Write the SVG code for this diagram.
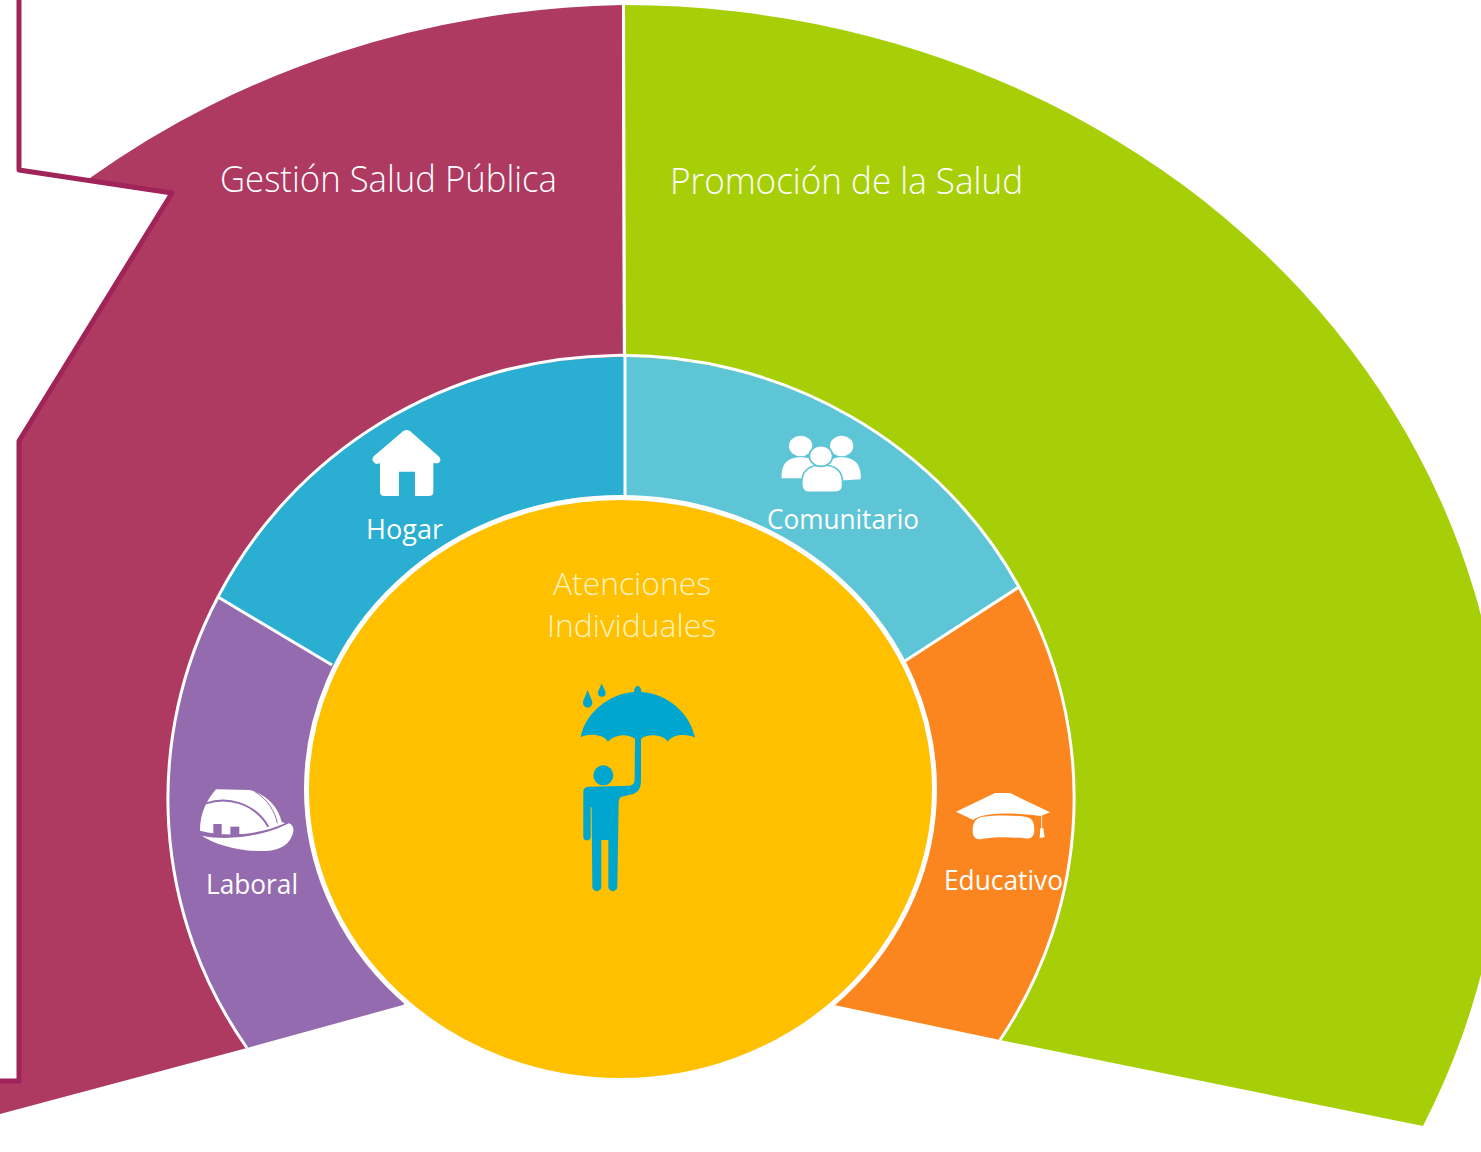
<svg xmlns="http://www.w3.org/2000/svg" width="1481" height="1152" viewBox="0 0 1481 1152">
<style>
text{font-family:"Open Sans","Noto Sans","Liberation Sans",sans-serif;font-weight:300;fill:#fff}
.big{font-size:36px}.mid{font-size:28px;font-weight:400}.ctr{font-size:32px;fill:#fff3c4}
.sep{stroke:#fff;stroke-width:3;fill:none}
.ic{fill:#fff}
</style>
<rect width="1481" height="1152" fill="#fff"/>
<g id="gestion">
<path d="M622,5 A881,790 0 0 0 90,178 L0,300 L0,1114 L247,1048 L420,900 L624,800 Z" fill="#ae3961"/>
<path d="M0,0 L19,0 L19,170 L172,193 L19,441 L19,1081 L0,1081 Z" fill="#fff"/>
<path d="M19,0 L19,170 L172,193 L19,441 L19,1081 L0,1081" fill="none" stroke="#a0245a" stroke-width="5" stroke-linejoin="round"/>
<text class="big" x="220" y="192" textLength="337" lengthAdjust="spacingAndGlyphs">Gestión Salud Pública</text>
</g>
<g id="promocion">
<path d="M624,5 A881,790 0 0 1 1423,1126 L1000,1040 L900,900 L624,800 Z" fill="#a6cf08"/>
<text class="big" x="670" y="194" textLength="353" lengthAdjust="spacingAndGlyphs">Promoción de la Salud</text>
</g>
<g id="laboral">
<path d="M218,597 A452,441 0 0 0 247,1048 L403,1005 L600,800 L332,665 Z" fill="#946bae"/>
<g transform="translate(190,770) scale(.3333)">
<path class="ic" d="M30,182 C30,130 50,90 78,58 L180,60 C235,75 265,115 275,155 L285,160 C220,190 120,205 30,182Z"/>
<path d="M48,100 C110,80 190,95 235,170" fill="none" stroke="#946bae" stroke-width="6"/>
<path d="M195,65 C235,90 255,125 262,160" fill="none" stroke="#946bae" stroke-width="3"/>
<rect x="70" y="162" width="25" height="34" fill="#946bae"/>
<rect x="121" y="170" width="27" height="34" fill="#946bae"/>
<path class="ic" d="M35,197 C120,215 230,195 297,160 C310,165 315,180 305,200 C290,235 250,245 200,243 C130,240 70,220 35,197Z"/>
</g>
<text class="mid" x="206" y="894" textLength="92" lengthAdjust="spacingAndGlyphs">Laboral</text>
</g>
<g id="hogar">
<path d="M218,597 A452,441 0 0 1 625,357 L625,800 L332,665 Z" fill="#2aaed1"/>
<g transform="translate(350,410) scale(.3333)">
<path class="ic" d="M160,63 Q170,57 180,63 L265,138 Q278,150 265,160 L250,160 L250,245 Q250,258 237,258 L195,258 L195,185 L147,185 L147,258 L103,258 Q90,258 90,245 L90,160 L78,162 Q60,150 72,138 Z"/>
</g>
<text class="mid" x="366" y="539" textLength="77" lengthAdjust="spacingAndGlyphs">Hogar</text>
</g>
<g id="comunitario">
<path d="M625,357 A452,441 0 0 1 1019,587 L905,661 L625,800 Z" fill="#5dc5d5"/>
<g transform="translate(760,420) scale(.3333)">
<ellipse class="ic" cx="122" cy="78" rx="35" ry="31"/>
<ellipse class="ic" cx="245" cy="78" rx="35" ry="31"/>
<path class="ic" d="M65,175 C62,130 85,112 122,112 C160,112 185,130 185,175 Z"/>
<path class="ic" d="M185,185 C185,130 210,112 245,112 C285,112 305,135 302,178 Z"/>
<path class="ic" d="M125,190 C125,150 150,135 186,135 C225,135 250,150 248,195 C248,210 240,217 225,217 L145,217 C132,217 125,205 125,190Z" stroke="#5dc5d5" stroke-width="5"/>
<ellipse class="ic" cx="183" cy="108" rx="35" ry="31" stroke="#5dc5d5" stroke-width="5"/>
</g>
<text class="mid" x="767" y="529" textLength="152" lengthAdjust="spacingAndGlyphs">Comunitario</text>
</g>
<g id="educativo">
<path d="M1019,587 A452,441 0 0 1 1000,1040 L834,1005 L700,800 L905,661 Z" fill="#fb861f"/>
<g transform="translate(940,780) scale(.3333)">
<path class="ic" d="M48,95 L165,39 L210,39 L330,97 L302,108 C260,100 130,92 100,120 Z"/>
<path class="ic" d="M98,150 C98,125 110,112 130,110 C170,105 230,105 262,112 C278,116 283,130 283,150 C283,172 270,178 255,175 C210,170 160,170 125,177 C105,180 98,170 98,150Z"/>
<path d="M305,108 L305,150" stroke="#fff" stroke-width="2.5"/>
<path class="ic" d="M301,145 L310,145 L314,172 L299,174 Z"/>
</g>
<text class="mid" x="944" y="890" textLength="119" lengthAdjust="spacingAndGlyphs">Educativo</text>
</g>
<g id="connectors">
<path class="sep" d="M623.5,5 L624.5,357"/>
<path class="sep" d="M625,357 L625,497"/>
<path class="sep" d="M218,597 L332,665"/>
<path class="sep" d="M1019,587 L905,661"/>
<path class="sep" d="M218,597 A452,441 0 0 1 1019,587"/>
<path class="sep" d="M218,597 A452,441 0 0 0 247,1048"/>
<path class="sep" d="M1019,587 A452,441 0 0 1 1000,1040"/>
</g>
<g id="atenciones">
<ellipse cx="620.5" cy="789" rx="314" ry="291.5" fill="#ffc000" stroke="#fff" stroke-width="5"/>
<text class="ctr" x="553" y="595" textLength="158" lengthAdjust="spacingAndGlyphs">Atenciones</text>
<text class="ctr" x="547" y="637" textLength="169" lengthAdjust="spacingAndGlyphs">Individuales</text>
<g transform="translate(540,670) scale(.3333)" fill="#00a6ce">
<path d="M122,202 C135,130 205,72 282,66 C282,55 288,48 293,48 C299,48 304,55 304,66 C385,72 450,130 465,203 C445,192 400,190 383,215 C370,192 320,190 303,207 L303,330 C303,355 295,365 280,372 L245,380 C238,382 236,390 236,400 L232,650 A13.5,13.5 0 0 1 205,650 L205,510 L184,510 L184,650 A13.5,13.5 0 0 1 157,650 L155,412 L152,412 L152,500 A11,11 0 0 1 130,500 L130,365 C130,355 138,350 148,350 L270,347 C280,345 284,340 284,325 L285,207 C265,190 225,192 204,215 C190,190 140,190 122,202 Z"/>
<circle cx="190" cy="316" r="30"/>
<path d="M143,60 C150,80 157,90 157,99 A14,14 0 0 1 129,99 C129,90 136,80 143,60Z"/>
<path d="M185,40 C190,55 197,62 197,69 A11.5,11.5 0 0 1 174,69 C174,62 180,55 185,40Z"/>
</g>
</g>
</svg>
